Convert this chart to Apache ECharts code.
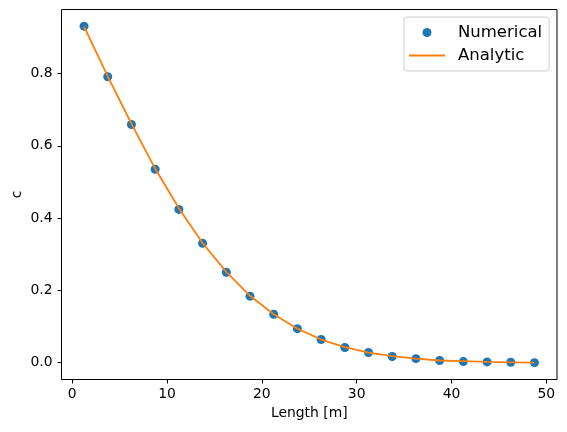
<!DOCTYPE html>
<html>
<head>
<meta charset="utf-8">
<script src="https://cdn.jsdelivr.net/npm/echarts@6/dist/echarts.min.js"></script>
<style>
html,body{margin:0;padding:0;background:#fff;}
#chart{width:567px;height:432px;}
</style>
</head>
<body>
<div id="chart"></div>
<script>
var lengths = [1.25,3.75,6.25,8.75,11.25,13.75,16.25,18.75,21.25,23.75,26.25,28.75,31.25,33.75,36.25,38.75,41.25,43.75,46.25,48.75];
var numerical = [0.931,0.791,0.659,0.535,0.424,0.330,0.250,0.184,0.134,0.094,0.064,0.042,0.028,0.017,0.011,0.006,0.003,0.002,0.001,0.000];
var analytic = [0.930,0.792,0.661,0.537,0.427,0.331,0.251,0.185,0.134,0.094,0.064,0.043,0.028,0.018,0.011,0.006,0.004,0.002,0.001,0.000];
var xTicks = [0,10,20,30,40,50];
var yTicks = [0,0.2,0.4,0.6,0.8];

var font = 'DejaVu Sans';
var chart = echarts.init(document.getElementById('chart'));
chart.setOption({
  animation: false,
  backgroundColor: '#fff',
  textStyle: {fontFamily: font},
  grid: {left: 61.5, top: 9.5, right: 10, bottom: 52.5, show: true, borderColor: '#000', borderWidth: 1, backgroundColor: 'transparent', containLabel: false, outerBoundsMode: 'none'},
  legend: {
    orient: 'vertical', left: 404, top: 17,
    padding: [6, 7, 6, 5],
    backgroundColor: '#fff', borderColor: '#d0d0d0', borderWidth: 1, borderRadius: 3,
    itemWidth: 36, itemHeight: 9, itemGap: 4,
    textStyle: {fontFamily: font, fontSize: 16.5, color: '#000', lineHeight: 19, padding: [0,0,0,8]},
    data: [
      {name: 'Numerical', icon: 'circle'},
      {name: 'Analytic', icon: 'path://M0,0L0.001,0M0,3.6L36,3.6L36,5.4L0,5.4ZM0,9L0.001,9'}
    ]
  },
  xAxis: {
    type: 'value', min: -1.125, max: 51.125,
    name: 'Length [m]', nameLocation: 'middle', nameGap: 27,
    nameTextStyle: {fontFamily: font, fontSize: 13.9, color: '#000'},
    axisLine: {show: false, onZero: false},
    axisTick: {show: true, inside: false, length: 4, lineStyle: {color: '#000'}, customValues: xTicks},
    axisLabel: {color: '#000', fontSize: 13.9, fontFamily: font, margin: 8, customValues: xTicks, formatter: function(v){return String(v);}},
    splitLine: {show: false}
  },
  yAxis: {
    type: 'value', min: -0.0466, max: 0.977,
    name: 'c', nameLocation: 'middle', nameGap: 37, nameRotate: 90, nameMoveOverlap: false,
    nameTextStyle: {fontFamily: font, fontSize: 13.9, color: '#000'},
    axisLine: {show: false, onZero: false},
    axisTick: {show: true, inside: false, length: 4, lineStyle: {color: '#000'}, customValues: yTicks},
    axisLabel: {color: '#000', fontSize: 13.9, fontFamily: font, margin: 9, customValues: yTicks, formatter: function(v){return v.toFixed(1);}},
    splitLine: {show: false}
  },
  series: [
    {
      name: 'Numerical', type: 'scatter', z: 2,
      symbol: 'circle', symbolSize: 9,
      itemStyle: {color: '#1f77b4', opacity: 1},
      data: lengths.map(function(x, i){return [x, numerical[i]];})
    },
    {
      name: 'Analytic', type: 'line', z: 3,
      symbol: 'none', showSymbol: false,
      lineStyle: {color: '#ff7f0e', width: 1.8},
      itemStyle: {color: '#ff7f0e'},
      data: lengths.map(function(x, i){return [x, analytic[i]];})
    }
  ]
});
</script>
</body>
</html>
